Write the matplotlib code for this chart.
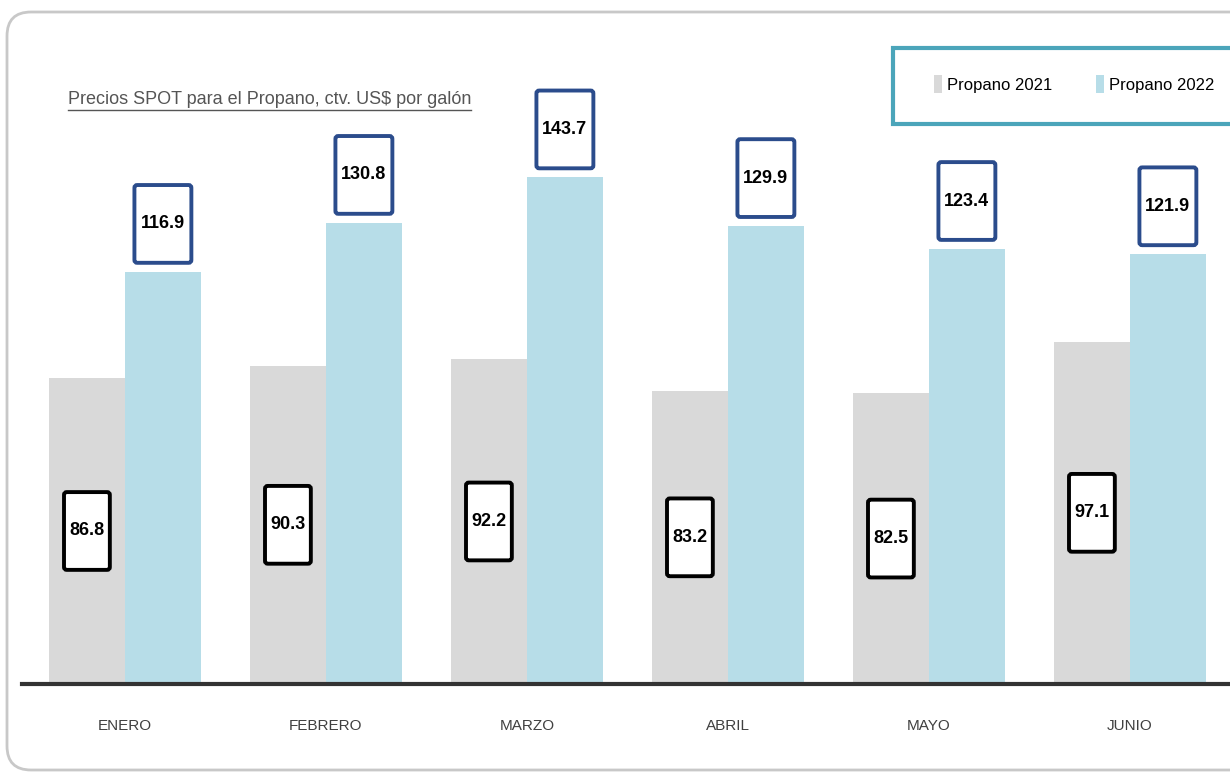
"""
Precios SPOT del propano 2021 vs 2022 (ene-jun).
"""
import matplotlib
matplotlib.use("Agg")
import matplotlib.pyplot as plt
from matplotlib.patches import Patch, FancyBboxPatch
from matplotlib.offsetbox import DrawingArea, AnnotationBbox
from matplotlib.text import Text
from matplotlib.lines import Line2D
from matplotlib.transforms import IdentityTransform

plt.rcParams["font.family"] = ["Liberation Sans", "DejaVu Sans"]

meses = ["ENERO", "FEBRERO", "MARZO", "ABRIL", "MAYO", "JUNIO"]
propano_2021 = [86.8, 90.3, 92.2, 83.2, 82.5, 97.1]
propano_2022 = [116.9, 130.8, 143.7, 129.9, 123.4, 121.9]
series = ["Propano 2021", "Propano 2022"]
titulo = "Precios SPOT para el Propano, ctv. US$ por galón"

C21 = "#d9d9d9"
C22 = "#b7dde8"
NAVY = "#2b4c8c"
TEAL = "#4ba5ba"

W, H = 1230, 776
fig = plt.figure(figsize=(W / 100, H / 100), dpi=100)

# tarjeta de fondo
card = FancyBboxPatch((7, 6), 1300, 758, boxstyle="round,pad=0,rounding_size=24",
                      transform=IdentityTransform(), facecolor="white",
                      edgecolor="#c8c8c8", linewidth=2, zorder=-10)
fig.patches.append(card)

ax = fig.add_axes([22 / W, 92 / H, 1 - 22 / W, 684 / H])
ax.patch.set_visible(False)

x = list(range(len(meses)))
bw = 0.378
ax.bar([i - bw / 2 for i in x], propano_2021, width=bw, color=C21, zorder=2)
ax.bar([i + bw / 2 for i in x], propano_2022, width=bw, color=C22, zorder=2)

ax.set_xlim(-0.512, 5.498)
ax.set_ylim(0, 194)
for s in ["top", "left", "right"]:
    ax.spines[s].set_visible(False)
ax.spines["bottom"].set_linewidth(3)
ax.spines["bottom"].set_color("#333333")
ax.spines["bottom"].set_zorder(3)
ax.set_yticks([])
ax.set_xticks(x)
ax.set_xticklabels(meses, fontsize=11, color="#404040")
ax.tick_params(axis="x", length=0, pad=25)


def caja(texto, w, h, edge):
    da = DrawingArea(w, h, 0, 0)
    da.add_artist(FancyBboxPatch((1.5, 1.5), w - 3, h - 3,
                                 boxstyle="round,pad=0,rounding_size=2",
                                 facecolor="white", edgecolor=edge, linewidth=2.8))
    da.add_artist(Text(w / 2, h / 2, texto, ha="center", va="center",
                       fontsize=13, fontweight="bold", color="black"))
    return da


for i, v in zip(x, propano_2021):
    ab = AnnotationBbox(caja(f"{v:.1f}", 36, 59, "black"), (i - bw / 2, v / 2),
                        frameon=False, box_alignment=(0.5, 0.5), zorder=4)
    ax.add_artist(ab)

for i, v in zip(x, propano_2022):
    ab = AnnotationBbox(caja(f"{v:.1f}", 44, 59, NAVY), (i + bw / 2, v),
                        xybox=(0, 5), boxcoords="offset points",
                        frameon=False, box_alignment=(0.5, 0), zorder=4)
    ax.add_artist(ab)

# leyenda (marco aparte, se corta en el borde derecho)
marco = FancyBboxPatch((893, H - 124), 400, 76, boxstyle="square,pad=0",
                       transform=IdentityTransform(), facecolor="white",
                       edgecolor=TEAL, linewidth=3, zorder=5)
fig.patches.append(marco)
handles = [Patch(facecolor=C21, edgecolor="none"), Patch(facecolor=C22, edgecolor="none")]
leg = fig.legend(handles, series, loc="center left", bbox_to_anchor=(934 / W, 1 - 84 / H),
                 ncol=2, fontsize=12, frameon=False,
                 handlelength=0.5, handleheight=1.3, handletextpad=0.3,
                 columnspacing=2.6, borderpad=0, borderaxespad=0)
leg.set_zorder(6)

# titulo subrayado
t = fig.text(68 / W, 1 - 99 / H, titulo, fontsize=13, color="#555555",
             ha="left", va="center")
fig.canvas.draw()
bb = t.get_window_extent()
fig.add_artist(Line2D([bb.x0, bb.x1], [bb.y0 - 2, bb.y0 - 2], color="#555555",
                      linewidth=1, transform=IdentityTransform()))

fig.savefig("out.png", dpi=100)
plt.close(fig)
